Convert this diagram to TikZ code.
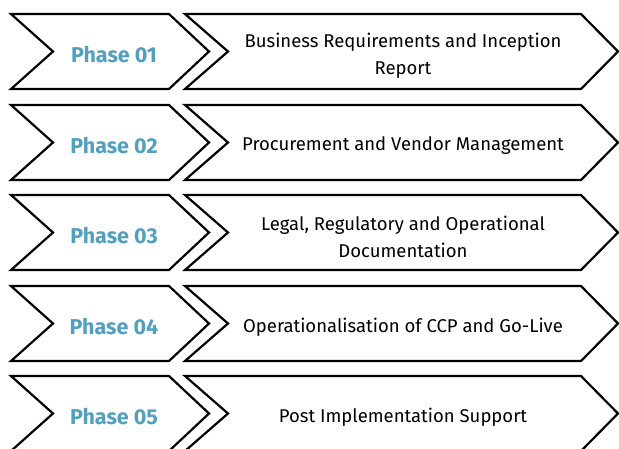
\documentclass[tikz,border=0pt]{standalone}
\usepackage{fontspec}
\setmainfont{Fira Sans}
\usepackage{tikz}

\definecolor{phaseblue}{RGB}{82,160,189}

\tikzset{
  chev/.style={draw=black,line width=2.2pt,fill=white},
  phase/.style={text=phaseblue,font=\fontsize{21.5}{24}\selectfont\bfseries},
  task/.style={text=black,align=center,font=\fontsize{18.5}{27}\selectfont}
}

\begin{document}
\begin{tikzpicture}[x=1pt,y=-1pt]
\useasboundingbox (0,0) rectangle (619,448);

% row 1
\draw[chev] (11,14) -- ++(158,0) -- ++(40,37.5) -- ++(-40,37.5) -- ++(-158,0) -- ++(42,-37.5) -- cycle;
\draw[chev] (185,14) -- ++(396,0) -- ++(37,37.5) -- ++(-37,37.5) -- ++(-396,0) -- ++(43,-37.5) -- cycle;
\node[phase] (p1) at (114,55) {Phase 01};
\node[task] (t1) at (403,56) {Business Requirements and Inception\\Report};

% row 2
\draw[chev] (11,105) -- ++(158,0) -- ++(40,37.5) -- ++(-40,37.5) -- ++(-158,0) -- ++(42,-37.5) -- cycle;
\draw[chev] (185,105) -- ++(396,0) -- ++(37,37.5) -- ++(-37,37.5) -- ++(-396,0) -- ++(43,-37.5) -- cycle;
\node[phase] (p2) at (114,146) {Phase 02};
\node[task] (t2) at (403,146) {Procurement and Vendor Management};

% row 3
\draw[chev] (11,195) -- ++(158,0) -- ++(40,37.5) -- ++(-40,37.5) -- ++(-158,0) -- ++(42,-37.5) -- cycle;
\draw[chev] (185,195) -- ++(396,0) -- ++(37,37.5) -- ++(-37,37.5) -- ++(-396,0) -- ++(43,-37.5) -- cycle;
\node[phase] (p3) at (114,236) {Phase 03};
\node[task] (t3) at (403,237) {Legal, Regulatory and Operational\\Documentation};

% row 4
\draw[chev] (11,286) -- ++(158,0) -- ++(40,37.5) -- ++(-40,37.5) -- ++(-158,0) -- ++(42,-37.5) -- cycle;
\draw[chev] (185,286) -- ++(396,0) -- ++(37,37.5) -- ++(-37,37.5) -- ++(-396,0) -- ++(43,-37.5) -- cycle;
\node[phase] (p4) at (114,327) {Phase 04};
\node[task] (t4) at (403,327) {Operationalisation of CCP and Go-Live};

% row 5
\draw[chev] (11,376) -- ++(158,0) -- ++(40,37.5) -- ++(-40,37.5) -- ++(-158,0) -- ++(42,-37.5) -- cycle;
\draw[chev] (185,376) -- ++(396,0) -- ++(37,37.5) -- ++(-37,37.5) -- ++(-396,0) -- ++(43,-37.5) -- cycle;
\node[phase] (p5) at (114,417) {Phase 05};
\node[task] (t5) at (403,417) {Post Implementation Support};

\end{tikzpicture}
\end{document}
